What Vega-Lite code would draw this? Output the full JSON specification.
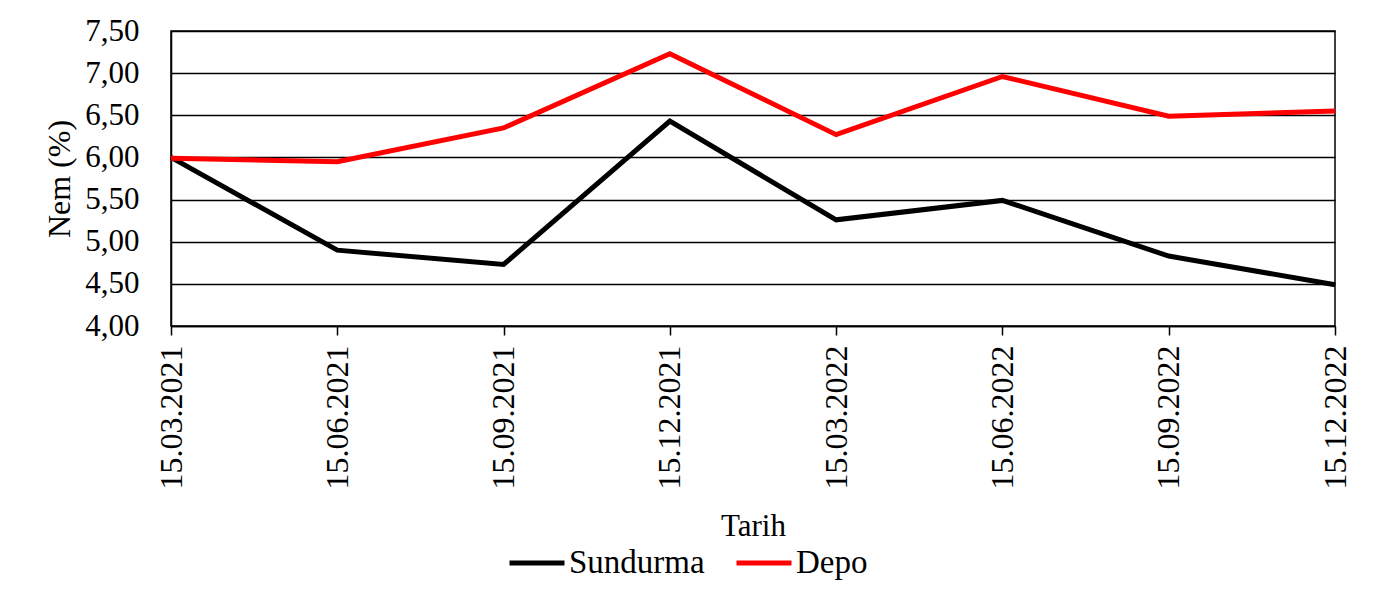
{
  "$schema": "https://vega.github.io/schema/vega-lite/v6.json",
  "autosize": {"type": "none"},
  "padding": {"left": 171, "top": 31, "right": 42, "bottom": 281},
  "width": 1164,
  "height": 295,
  "background": "white",
  "data": {
    "values": [
      {"Tarih": "15.03.2021", "Seri": "Sundurma", "Nem": 6.00},
      {"Tarih": "15.06.2021", "Seri": "Sundurma", "Nem": 4.90},
      {"Tarih": "15.09.2021", "Seri": "Sundurma", "Nem": 4.73},
      {"Tarih": "15.12.2021", "Seri": "Sundurma", "Nem": 6.43},
      {"Tarih": "15.03.2022", "Seri": "Sundurma", "Nem": 5.26},
      {"Tarih": "15.06.2022", "Seri": "Sundurma", "Nem": 5.49},
      {"Tarih": "15.09.2022", "Seri": "Sundurma", "Nem": 4.83},
      {"Tarih": "15.12.2022", "Seri": "Sundurma", "Nem": 4.49},
      {"Tarih": "15.03.2021", "Seri": "Depo", "Nem": 5.99},
      {"Tarih": "15.06.2021", "Seri": "Depo", "Nem": 5.95},
      {"Tarih": "15.09.2021", "Seri": "Depo", "Nem": 6.35},
      {"Tarih": "15.12.2021", "Seri": "Depo", "Nem": 7.23},
      {"Tarih": "15.03.2022", "Seri": "Depo", "Nem": 6.27},
      {"Tarih": "15.06.2022", "Seri": "Depo", "Nem": 6.96},
      {"Tarih": "15.09.2022", "Seri": "Depo", "Nem": 6.49},
      {"Tarih": "15.12.2022", "Seri": "Depo", "Nem": 6.55}
    ]
  },
  "mark": {"type": "line", "strokeWidth": 5},
  "encoding": {
    "x": {
      "field": "Tarih",
      "type": "ordinal",
      "sort": ["15.03.2021", "15.06.2021", "15.09.2021", "15.12.2021", "15.03.2022", "15.06.2022", "15.09.2022", "15.12.2022"],
      "scale": {"type": "point", "padding": 0},
      "axis": {
        "title": "Tarih",
        "labelAngle": -90,
        "labelFont": "Liberation Serif",
        "labelFontSize": 32,
        "labelColor": "black",
        "labelPadding": 10,
        "tickSize": 9,
        "tickColor": "black",
        "tickWidth": 1.5,
        "domainColor": "black",
        "domainWidth": 1.5,
        "grid": false,
        "titleFont": "Liberation Serif",
        "titleFontSize": 31,
        "titleFontWeight": "normal",
        "titleColor": "black",
        "titlePadding": 22
      }
    },
    "y": {
      "field": "Nem",
      "type": "quantitative",
      "scale": {"domain": [4, 7.5], "nice": false, "zero": false},
      "axis": {
        "title": "Nem (%)",
        "values": [4, 4.5, 5, 5.5, 6, 6.5, 7, 7.5],
        "labelExpr": "replace(format(datum.value, '.2f'), '.', ',')",
        "labelFont": "Liberation Serif",
        "labelFontSize": 31,
        "labelColor": "black",
        "labelPadding": 32,
        "ticks": false,
        "domainColor": "black",
        "domainWidth": 1.5,
        "grid": true,
        "gridColor": "black",
        "gridWidth": 1.5,
        "gridOpacity": 1,
        "titleFont": "Liberation Serif",
        "titleFontSize": 32,
        "titleFontWeight": "normal",
        "titleColor": "black",
        "titlePadding": 8
      }
    },
    "color": {
      "field": "Seri",
      "type": "nominal",
      "sort": ["Sundurma", "Depo"],
      "scale": {"domain": ["Sundurma", "Depo"], "range": ["#000000", "#FF0000"]},
      "legend": {
        "title": null,
        "orient": "none",
        "direction": "horizontal",
        "legendX": 336,
        "legendY": 502,
        "symbolType": "stroke",
        "symbolSize": 3025,
        "symbolStrokeWidth": 5,
        "labelFont": "Liberation Serif",
        "labelFontSize": 33,
        "labelColor": "black",
        "labelOffset": 2,
        "columnPadding": 21
      }
    }
  },
  "config": {
    "view": {"stroke": "black", "strokeWidth": 1.5}
  }
}
